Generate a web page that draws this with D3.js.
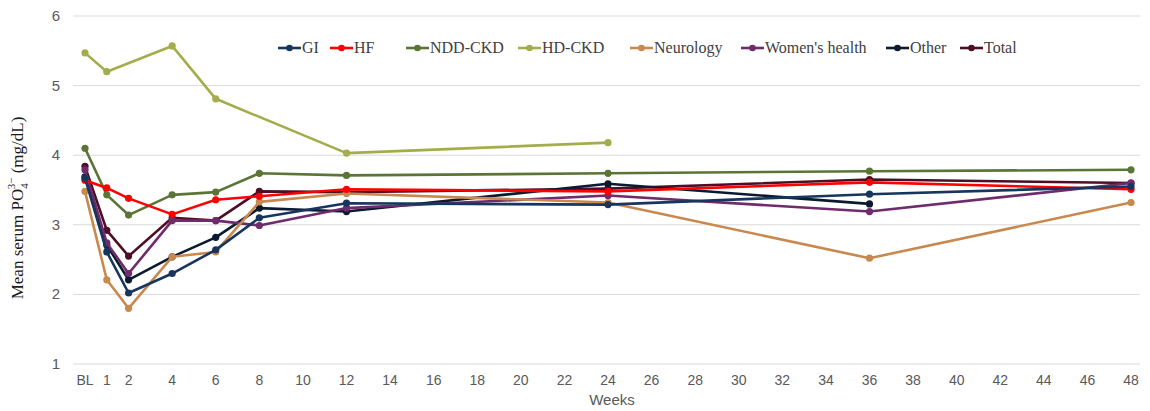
<!DOCTYPE html>
<html>
<head>
<meta charset="utf-8">
<script src="https://cdn.jsdelivr.net/npm/d3@7"></script>
<style>
  body { margin: 0; background: #fff; }
  .tick-label { font-family: "Liberation Sans", Arial, sans-serif; font-size: 14px; fill: #595959; }
  .legend-text { font-family: "Liberation Serif", "Times New Roman", serif; font-size: 16px; fill: #404040; }
</style>
</head>
<body>
<div id="chart"></div>
<script>
// x positions (weeks, 0 = baseline)
var weeks = [0, 1, 2, 4, 6, 8, 12, 24, 36, 48];
var xTicks = [0, 1, 2, 4, 6, 8, 10, 12, 14, 16, 18, 20, 22, 24, 26, 28, 30, 32, 34, 36, 38, 40, 42, 44, 46, 48];
var yTicks = [1, 2, 3, 4, 5, 6];

var seriesNames = ["GI", "HF", "NDD-CKD", "HD-CKD", "Neurology", "Women's health", "Other", "Total"];
var seriesColors = ["#17365d", "#ff0000", "#5b7537", "#a3ad4b", "#c8894f", "#6f2b6b", "#0b1a31", "#4d0e26"];

// null = no measurement at that week
var giValues      = [3.67, 2.61, 2.02, 2.30, 2.64, 3.10, 3.31, 3.29, 3.44, 3.55];
var hfValues      = [3.64, 3.53, 3.38, 3.15, 3.36, 3.41, 3.51, 3.48, 3.61, 3.51];
var nddValues     = [4.10, 3.43, 3.14, 3.43, 3.47, 3.74, 3.71, 3.74, 3.77, 3.79];
var hdValues      = [5.47, 5.20, null, 5.57, 4.81, null, 4.03, 4.18, null, null];
var neuroValues   = [3.48, 2.21, 1.80, 2.54, 2.61, 3.33, 3.45, 3.32, 2.52, 3.32];
var womenValues   = [3.79, 2.74, 2.30, 3.06, 3.06, 2.99, 3.24, 3.42, 3.19, 3.60];
var otherValues   = [3.69, 2.71, 2.21, 2.54, 2.82, 3.24, 3.19, 3.59, 3.30, null];
var totalValues   = [3.84, 2.92, 2.55, 3.10, 3.06, 3.48, 3.47, 3.52, 3.65, 3.60];

var allValues = [giValues, hfValues, nddValues, hdValues, neuroValues, womenValues, otherValues, totalValues];

function drawChart() {
    var margin = {top: 16, right: 19, bottom: 47, left: 85};
    var width = 1150 - margin.left - margin.right;
    var height = 411 - margin.top - margin.bottom;

    var x = d3.scaleLinear().domain([0, 48]).range([0, 1046]);
    var y = d3.scaleLinear().domain([1, 6]).range([height, 0]);

    var svg = d3.select("#chart").append("svg")
        .attr("width", 1150)
        .attr("height", 411);

    var g = svg.append("g")
        .attr("transform", `translate(${margin.left},${margin.top})`);

    // gridlines
    g.append("g")
        .selectAll("line")
        .data(yTicks)
        .enter()
        .append("line")
        .attr("x1", -12)
        .attr("x2", 1055)
        .attr("y1", d => y(d))
        .attr("y2", d => y(d))
        .attr("stroke", "#d9d9d9")
        .attr("stroke-width", 1);

    // y tick labels
    g.append("g")
        .selectAll("text")
        .data(yTicks)
        .enter()
        .append("text")
        .attr("class", "tick-label")
        .attr("x", -25)
        .attr("y", d => y(d) + 5)
        .attr("text-anchor", "end")
        .style("font-size", "15px")
        .text(d => d);

    // x tick labels
    g.append("g")
        .selectAll("text")
        .data(xTicks)
        .enter()
        .append("text")
        .attr("class", "tick-label")
        .attr("x", d => x(d))
        .attr("y", height + 21)
        .attr("text-anchor", "middle")
        .text(d => d === 0 ? "BL" : d);

    // x title
    svg.append("text")
        .attr("class", "tick-label")
        .attr("x", 612)
        .attr("y", 405)
        .attr("text-anchor", "middle")
        .style("font-size", "15px")
        .text("Weeks");

    // y title with sub/superscripts
    var yTitle = svg.append("text")
        .attr("transform", "translate(23,208) rotate(-90)")
        .attr("text-anchor", "middle")
        .style("font-family", "'Liberation Serif', 'Times New Roman', serif")
        .style("font-size", "17px")
        .style("fill", "#1a1a1a");
    yTitle.append("tspan").text("Mean serum PO");
    yTitle.append("tspan").attr("dy", 5).style("font-size", "11px").text("4");
    yTitle.append("tspan").attr("dy", -13).attr("dx", -6).style("font-size", "11px").text("3\u2212");
    yTitle.append("tspan").attr("dy", 8).text(" (mg/dL)");

    var line = d3.line()
        .defined(d => d.v !== null)
        .x(d => x(d.w))
        .y(d => y(d.v));

    var series = seriesNames.map((name, i) => ({
        name: name,
        color: seriesColors[i],
        points: weeks.map((w, j) => ({w: w, v: allValues[i][j]})).filter(d => d.v !== null)
    }));

    // draw in reverse so GI sits on top, like the original
    var drawOrder = series.slice().reverse();

    drawOrder.forEach(function(s) {
        g.append("path")
            .datum(s.points)
            .attr("fill", "none")
            .attr("stroke", s.color)
            .attr("stroke-width", 2.6)
            .attr("stroke-linejoin", "round")
            .attr("d", line);

        g.append("g")
            .selectAll("circle")
            .data(s.points)
            .enter()
            .append("circle")
            .attr("cx", d => x(d.w))
            .attr("cy", d => y(d.v))
            .attr("r", 3.6)
            .attr("fill", s.color);
    });

    // legend
    var legendX = [278, 330, 406, 518, 630, 741, 886, 960];
    var legend = svg.append("g").attr("transform", "translate(0,48)");
    series.forEach(function(s, i) {
        var item = legend.append("g").attr("transform", `translate(${legendX[i]},0)`);
        item.append("line")
            .attr("x1", 0).attr("x2", 23)
            .attr("y1", 0).attr("y2", 0)
            .attr("stroke", s.color)
            .attr("stroke-width", 2.6);
        item.append("circle")
            .attr("cx", 11.5).attr("cy", 0).attr("r", 3.3)
            .attr("fill", s.color);
        item.append("text")
            .attr("class", "legend-text")
            .attr("x", 24)
            .attr("y", 5)
            .text(s.name);
    });
}

drawChart();
</script>
</body>
</html>
